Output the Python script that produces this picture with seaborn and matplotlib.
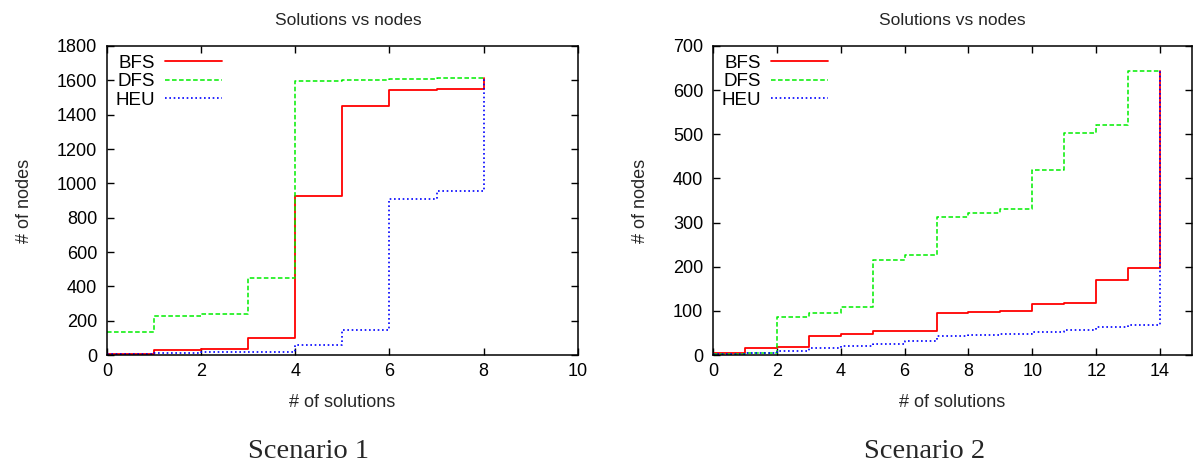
import seaborn as sns
import pandas as pd
import matplotlib
matplotlib.use("Agg")
import matplotlib.pyplot as plt

# number of solutions found (x) vs nodes explored (y)
sol1 = [0, 1, 2, 3, 4, 5, 6, 7, 8]
bfs1 = [6, 29, 33, 102, 927, 1448, 1546, 1552, 1612]
dfs1 = [136, 228, 239, 447, 1596, 1601, 1606, 1611, 1614]
heu1 = [5, 10, 15, 18, 58, 148, 908, 953, 1612]

sol2 = [0, 1, 2, 3, 4, 5, 6, 7, 8, 9, 10, 11, 12, 13, 14]
bfs2 = [5, 15, 19, 42, 48, 54, 55, 96, 97, 100, 116, 117, 171, 196, 643]
dfs2 = [2, 4, 87, 96, 109, 215, 227, 313, 322, 330, 419, 502, 520, 643, 643]
heu2 = [2, 5, 10, 15, 20, 25, 31, 42, 45, 47, 51, 57, 63, 68, 643]

names = ["BFS", "DFS", "HEU"]
colors = {"BFS": "#ff0000", "DFS": "#00ee00", "HEU": "#0000ff"}
dashes = {"BFS": None, "DFS": (3, 1.6), "HEU": (1, 1.6)}
widths = {"BFS": 1.3, "DFS": 1.1, "HEU": 1.2}

sns.set_theme(style="ticks")
plt.rcParams["font.family"] = ["Liberation Sans", "DejaVu Sans"]

fig = plt.figure(figsize=(11.95, 4.67), dpi=100)
ax1 = fig.add_axes([0.0895, 0.2398, 0.394, 0.6617])
ax2 = fig.add_axes([0.5967, 0.2398, 0.4008, 0.6617])


def draw(ax, x, series, xmax, xstep, ymax, ystep, title_x, ylab_x):
    for name, y in zip(names, series):
        df = pd.DataFrame({"sol": x, "nodes": y})
        sns.lineplot(data=df, x="sol", y="nodes", ax=ax, color=colors[name],
                     lw=widths[name], drawstyle="steps-post", label=name)
        if dashes[name]:
            ax.get_lines()[-1].set_dashes(dashes[name])
    ax.set_xlim(0, xmax)
    ax.set_ylim(0, ymax)
    ax.set_xticks(range(0, int(xmax) + 1, xstep))
    ax.set_yticks(range(0, ymax + 1, ystep))
    ax.tick_params(direction="in", length=5, width=1, top=True, right=True,
                   labelsize=13, colors="black")
    ax.tick_params(axis="x", pad=6)
    ax.tick_params(axis="y", pad=7)
    for s in ax.spines.values():
        s.set_linewidth(1.1)
        s.set_color("black")
    ax.set_xlabel("# of solutions", fontsize=13)
    ax.set_ylabel("# of nodes", fontsize=13)
    ax.xaxis.set_label_coords(0.5, -0.125)
    ax.yaxis.set_label_coords(ylab_x, 0.5)
    ax.set_title("Solutions vs nodes", fontsize=12.5, pad=15, x=title_x)
    leg = ax.legend(loc="upper left", frameon=False, markerfirst=False,
                    fontsize=13.5, handlelength=3.0, handletextpad=0.55,
                    labelspacing=0.08, borderaxespad=0.3, borderpad=0.15)
    for t in leg.get_texts():
        t.set_color("black")


draw(ax1, sol1, [bfs1, dfs1, heu1], 10, 2, 1800, 200, 0.513, -0.157)
draw(ax2, sol2, [bfs2, dfs2, heu2], 15, 2, 700, 100, 0.5, -0.134)

fig.text(308 / 1195, 1 - 452 / 467, "Scenario 1", ha="center", va="center",
         family="Liberation Serif", fontsize=20.5)
fig.text(925 / 1195, 1 - 452 / 467, "Scenario 2", ha="center", va="center",
         family="Liberation Serif", fontsize=20.5)

fig.savefig("out.png", dpi=100)
